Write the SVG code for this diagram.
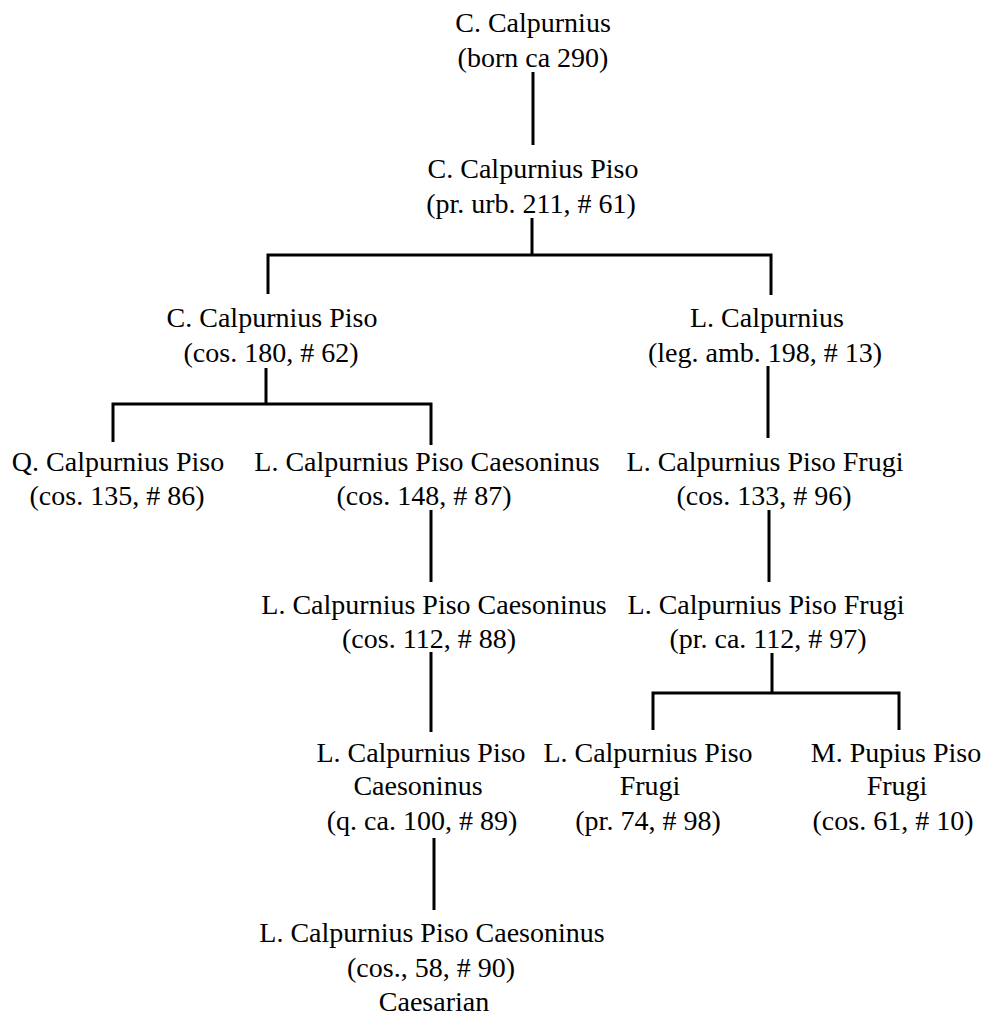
<svg xmlns="http://www.w3.org/2000/svg" width="993" height="1019" viewBox="0 0 993 1019">
<style>
.t text{font-family:'Liberation Serif','Times New Roman',serif;font-size:28px;fill:#000;text-anchor:middle}
.c line,.c polyline{stroke:#000;stroke-width:3;fill:none}
</style>
<rect width="993" height="1019" fill="#fff"/>
<g class="c" id="connectors">
<line x1="533" y1="72" x2="533" y2="145"/>
<line x1="532" y1="218" x2="532" y2="255"/>
<polyline points="268,294 268,255 771,255 771,295"/>
<line x1="266" y1="368" x2="266" y2="404"/>
<polyline points="113,442 113,404 431,404 431,445"/>
<line x1="768" y1="366" x2="768" y2="438"/>
<line x1="431" y1="510" x2="431" y2="582"/>
<line x1="769" y1="510" x2="769" y2="582"/>
<line x1="431" y1="652" x2="431" y2="732"/>
<line x1="772" y1="653" x2="772" y2="693"/>
<polyline points="653,730 653,693 899,693 899,730"/>
<line x1="434" y1="838" x2="434" y2="910"/>
</g>
<g class="t" font-family="Liberation Serif, serif">
<g id="n1"><text x="533" y="32">C. Calpurnius</text><text x="533" y="67">(born ca 290)</text></g>
<g id="n2"><text x="533" y="178">C. Calpurnius Piso</text><text x="531" y="213">(pr. urb. 211, # 61)</text></g>
<g id="n3"><text x="272" y="327">C. Calpurnius Piso</text><text x="271" y="362">(cos. 180, # 62)</text></g>
<g id="n4"><text x="767" y="327">L. Calpurnius</text><text x="765" y="362">(leg. amb. 198, # 13)</text></g>
<g id="n5"><text x="118" y="471">Q. Calpurnius Piso</text><text x="117" y="505">(cos. 135, # 86)</text></g>
<g id="n6"><text x="427" y="471">L. Calpurnius Piso Caesoninus</text><text x="424" y="505">(cos. 148, # 87)</text></g>
<g id="n7"><text x="765" y="471">L. Calpurnius Piso Frugi</text><text x="764" y="505">(cos. 133, # 96)</text></g>
<g id="n8"><text x="434" y="614">L. Calpurnius Piso Caesoninus</text><text x="429" y="648">(cos. 112, # 88)</text></g>
<g id="n9"><text x="766" y="614">L. Calpurnius Piso Frugi</text><text x="768" y="648">(pr. ca. 112, # 97)</text></g>
<g id="n10"><text x="421" y="762">L. Calpurnius Piso</text><text x="418" y="795">Caesoninus</text><text x="422" y="830">(q. ca. 100, # 89)</text></g>
<g id="n11"><text x="648" y="762">L. Calpurnius Piso</text><text x="650" y="795">Frugi</text><text x="648" y="830">(pr. 74, # 98)</text></g>
<g id="n12"><text x="896" y="762">M. Pupius Piso</text><text x="897" y="795">Frugi</text><text x="893" y="830">(cos. 61, # 10)</text></g>
<g id="n13"><text x="432" y="942">L. Calpurnius Piso Caesoninus</text><text x="431" y="977">(cos., 58, # 90)</text><text x="434" y="1011">Caesarian</text></g>
</g>
</svg>
